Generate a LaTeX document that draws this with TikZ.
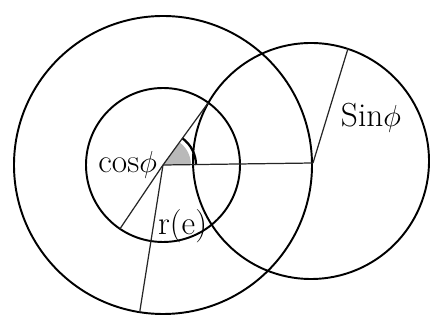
\documentclass[tikz,border=0pt]{standalone}
\usetikzlibrary{calc,positioning}

\begin{document}
\begin{tikzpicture}[x=0.02cm, y=0.02cm,
    font=\fontsize{19}{22}\selectfont,
    ring/.style={draw, black, line width=1.1pt},
    ray/.style={draw, black!85, line width=0.7pt},
    lbl/.style={inner sep=1pt}]

\useasboundingbox (0,0) rectangle (430,321);

\coordinate (O) at (163,156);
\coordinate (R) at (313,158);

\draw [ring] (O) circle (149);
\draw [ring] (O) circle (77);
\draw [ring] (311,160) circle (118);

% angle
\fill [gray!55] (O) -- ++(0:28) arc (0:54:28) -- cycle;
\draw [black, line width=1.3pt] ($(O)+(0:33)$) arc (0:54:33);

\coordinate (A) at ($(O)+(54:77)$);
\coordinate (C) at ($(R)+(73:120)$);
\coordinate (D) at ($(O)+(236:77)$);
\coordinate (E) at ($(O)+(261:149)$);

\draw [ray] (O) -- (R);
\draw [ray] (O) -- (A);
\draw [ray] (R) -- (C);
\draw [ray] (O) -- (D);
\draw [ray] (O) -- (E);

\node [lbl, anchor=east] (cs) at (159,156) {cos$\phi$};
\node [lbl] (sn) at (371,203) {Sin$\phi$};
\node [lbl, anchor=west] (re) at (156,95) {r(e)};

\end{tikzpicture}
\end{document}
